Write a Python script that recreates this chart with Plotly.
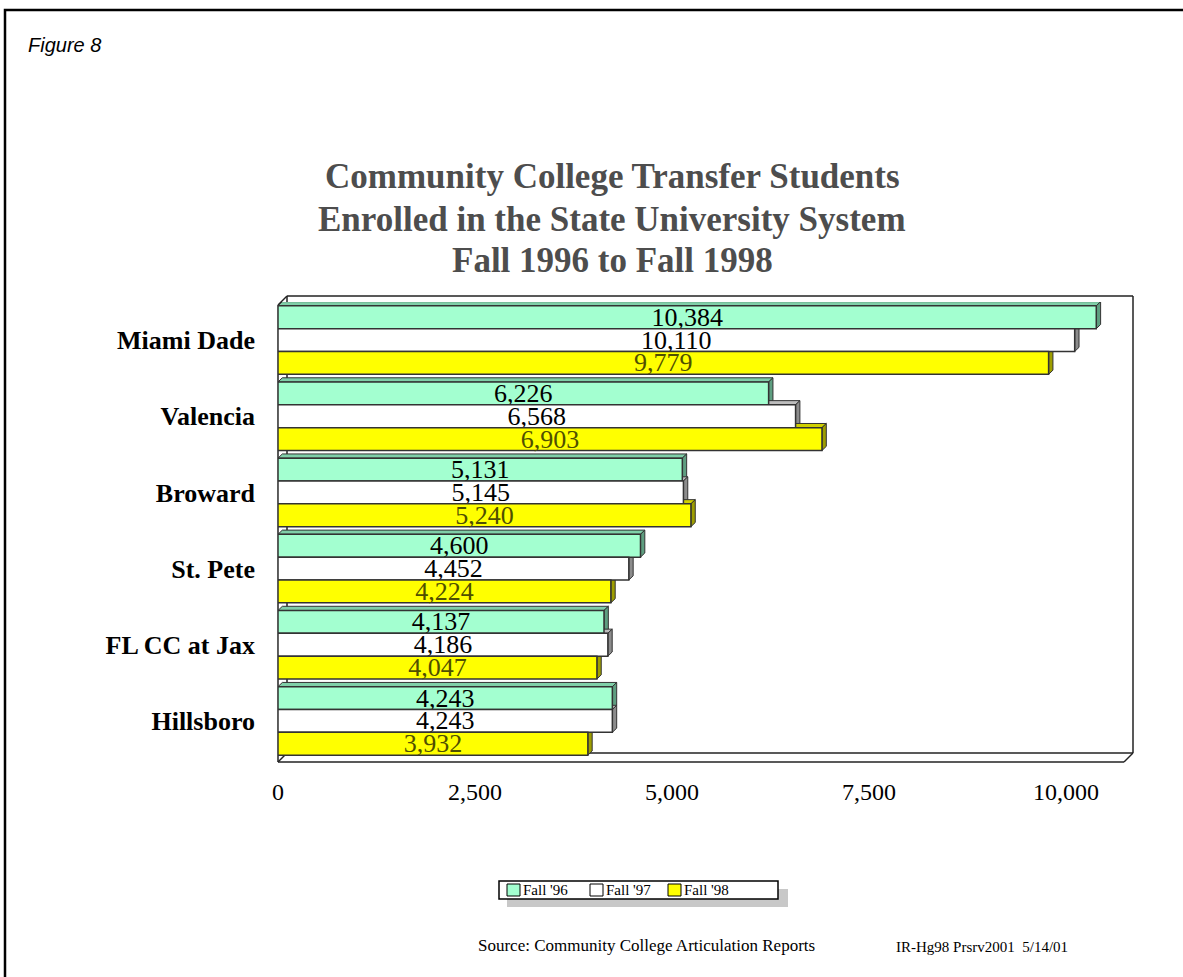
import plotly.graph_objects as go

categories = ["Miami Dade", "Valencia", "Broward", "St. Pete", "FL CC at Jax", "Hillsboro"]
series_names = ["Fall '96", "Fall '97", "Fall '98"]
fall96 = [10384, 6226, 5131, 4600, 4137, 4243]
fall97 = [10110, 6568, 5145, 4452, 4186, 4243]
fall98 = [9779, 6903, 5240, 4224, 4047, 3932]
tick_vals = [0, 2500, 5000, 7500, 10000]
tick_text = ["0", "2,500", "5,000", "7,500", "10,000"]
title_lines = ["Community College Transfer Students",
               "Enrolled in the State University System",
               "Fall 1996 to Fall 1998"]

W, H = 1183, 977
fills = ["#A3FFD0", "#FFFFFF", "#FFFF00"]
sides = ["#5E9E80", "#8C8C8C", "#9E9E00"]
tops = ["#7FCFA8", "#BDBDBD", "#CFCF00"]
text_colors = ["#000000", "#000000", "#4F4F00"]

ypos = list(range(len(categories)))
XMAX = 10812

def px(x):
    return x / W

def py(y):
    return 1 - y / H

fig = go.Figure()
all_series = [fall96, fall97, fall98]
for i, (name, vals) in enumerate(zip(series_names, all_series)):
    fig.add_trace(go.Bar(
        y=ypos, x=vals, orientation="h", name=name,
        marker=dict(color=fills[i], line=dict(color="#333333", width=1.5)),
        text=[f"{v:,}" for v in vals], textposition="inside",
        insidetextanchor="middle", constraintext="none", textangle=0,
        textfont=dict(family="Liberation Serif", size=26, color=text_colors[i]),
        cliponaxis=False, showlegend=False,
    ))

shapes = []
# 3D depth faces derived from data values
bargap = 0.1
bw = (1 - bargap) / 3
dx = 55
dy = 0.055
for i, vals in enumerate(all_series):
    for j, v in enumerate(vals):
        c = ypos[j] + (i - 1) * bw
        top = c - bw / 2
        bot = c + bw / 2
        shapes.append(dict(type="path", xref="x", yref="y", layer="below",
                           path=f"M 0 {top} L {v} {top} L {v+dx} {top-dy} L {dx} {top-dy} Z",
                           fillcolor=tops[i], line=dict(color="#333333", width=1)))
        shapes.append(dict(type="path", xref="x", yref="y", layer="below",
                           path=f"M {v} {top} L {v+dx} {top-dy} L {v+dx} {bot-dy} L {v} {bot} Z",
                           fillcolor=sides[i], line=dict(color="#333333", width=1)))

# Outer page border
shapes.append(dict(type="rect", xref="paper", yref="paper",
                   x0=px(5), x1=px(W + 20), y0=py(H + 20), y1=py(10),
                   line=dict(color="#000000", width=2.5), fillcolor="rgba(0,0,0,0)"))
# 3D box frame
L, R, T, B = 278, 1124, 305, 762
d = 9
box_lines = [
    (L + d, T - d, R + d, T - d),
    (R + d, T - d, R + d, B - d),
    (L, T, L + d, T - d),
    (L, T, L, B),
    (L + d, T - d, L + d, B - d),
    (L, B, R, B),
    (R, B, R + d, B - d),
    (L + d, B - d, R + d, B - d),
    (L, B, L + d, B - d),
]
for x0, y0, x1, y1 in box_lines:
    shapes.append(dict(type="line", xref="paper", yref="paper",
                       x0=px(x0), y0=py(y0), x1=px(x1), y1=py(y1),
                       line=dict(color="#222222", width=1.5), layer="below"))

# Custom compact legend (box with shadow)
LG_L, LG_R, LG_T, LG_B = 499, 778, 881, 899
shapes.append(dict(type="rect", xref="paper", yref="paper",
                   x0=px(LG_L + 8), x1=px(LG_R + 10), y0=py(LG_B + 8), y1=py(LG_T + 8),
                   fillcolor="#C8C8C8", line=dict(width=0)))
shapes.append(dict(type="rect", xref="paper", yref="paper",
                   x0=px(LG_L), x1=px(LG_R), y0=py(LG_B), y1=py(LG_T),
                   fillcolor="#FFFFFF", line=dict(color="#000000", width=1.5)))
legend_x = [507, 590, 668]
annotations = []
for i, name in enumerate(series_names):
    x0 = legend_x[i]
    shapes.append(dict(type="rect", xref="paper", yref="paper",
                       x0=px(x0), x1=px(x0 + 13), y0=py(896), y1=py(884),
                       fillcolor=fills[i], line=dict(color="#000000", width=1)))
    annotations.append(dict(text=name, x=px(x0 + 14), y=py(890), xref="paper", yref="paper",
                            xanchor="left", yanchor="middle", showarrow=False,
                            font=dict(family="Liberation Serif", size=15, color="#000000")))

title_y = [177, 219, 261]
for line, yy in zip(title_lines, title_y):
    annotations.append(dict(text=f"<b>{line}</b>", x=px(612), y=py(yy), xref="paper", yref="paper",
                            xanchor="center", yanchor="middle", showarrow=False,
                            font=dict(family="Liberation Serif", size=35, color="#4D4D4D")))

annotations += [
    dict(text="<i>Figure 8</i>", x=px(26), y=py(45), xref="paper", yref="paper",
         xanchor="left", yanchor="middle", showarrow=False,
         font=dict(family="Liberation Sans", size=20, color="#000000")),
    dict(text="Source: Community College Articulation Reports", x=px(646), y=py(945),
         xref="paper", yref="paper", xanchor="center", yanchor="middle", showarrow=False,
         font=dict(family="Liberation Serif", size=17, color="#000000")),
    dict(text="IR-Hg98 Prsrv2001  5/14/01", x=px(894), y=py(947),
         xref="paper", yref="paper", xanchor="left", yanchor="middle", showarrow=False,
         font=dict(family="Liberation Serif", size=15, color="#000000")),
]

fig.update_layout(
    width=W, height=H,
    margin=dict(l=0, r=0, t=0, b=0),
    paper_bgcolor="#FFFFFF", plot_bgcolor="rgba(0,0,0,0)",
    barmode="group", bargap=bargap, bargroupgap=0,
    shapes=shapes, annotations=annotations,
    showlegend=False,
    xaxis=dict(domain=[px(L), px(1130)], range=[0, XMAX], tickvals=tick_vals, ticktext=tick_text,
               showgrid=False, zeroline=False, showline=False, ticks="",
               ticklabelstandoff=16, automargin=False,
               tickfont=dict(family="Liberation Serif", size=24, color="#000000")),
    yaxis=dict(domain=[py(759), py(302)], range=[len(categories) - 0.5, -0.5],
               tickvals=ypos, ticktext=[f"<b>{c}</b>" for c in categories],
               showgrid=False, zeroline=False, showline=False, ticks="",
               ticklabelstandoff=22, automargin=False,
               tickfont=dict(family="Liberation Serif", size=26, color="#000000")),
)

fig.write_html("out.html")
